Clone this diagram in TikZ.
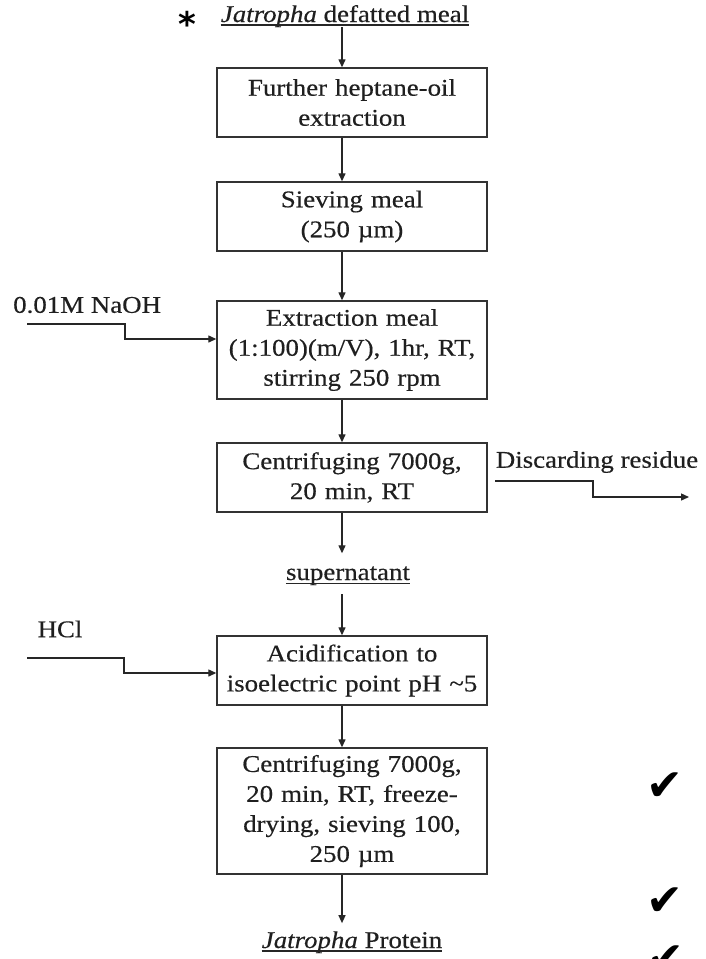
\documentclass[tikz,border=0pt]{standalone}
\usepackage{fontspec}
\setmainfont{Liberation Serif}[FakeStretch=1.12,FakeBold=0.4]
\newfontfamily\symfont{DejaVu Sans}
\usetikzlibrary{arrows.meta}
\begin{document}
\begin{tikzpicture}[x=1pt,y=-1pt,
  every node/.style={font=\fontsize{24}{30}\selectfont, text=black!88},
  stepbox/.style={draw=black!80, line width=1.4pt, minimum width=270pt, align=center, inner sep=0pt, text width=262pt},
  arr/.style={draw=black!85, line width=1.3pt, -{Triangle[length=8pt,width=7pt]}},
  ln/.style={draw=black!85, line width=1.2pt},
  lbl/.style={inner sep=0pt},
  checkmk/.style={inner sep=0pt, font=\symfont\fontsize{44}{44}\selectfont, text=black},
]
\useasboundingbox (0,0) rectangle (706,959);
\fill[white] (0,0) rectangle (706,959);

\coordinate (ax) at (342,0);

% title
\node[lbl, anchor=base] (top) at (345,22) {\textit{Jatropha} defatted meal};
\draw[ln] ([yshift=-3pt]top.base west) -- ([yshift=-3pt]top.base east);
\node[lbl, font=\symfont\bfseries\fontsize{34}{34}\selectfont, text=black] (ast) at (187,24) {*};

% boxes
\node[stepbox, minimum height=69pt] (b1) at (352,102.5) {Further heptane-oil\\extraction};
\node[stepbox, minimum height=69pt] (b2) at (352,216.5) {Sieving meal\\(250 µm)};
\node[stepbox, minimum height=98pt] (b3) at (352,350) {Extraction meal\\(1:100)(m/V), 1hr, RT,\\stirring 250 rpm};
\node[stepbox, minimum height=69pt] (b4) at (352,477.5) {Centrifuging 7000g,\\20 min, RT};
\node[lbl, anchor=base] (sup) at (348,580) {supernatant};
\draw[ln] ([yshift=-3.5pt]sup.base west) -- ([yshift=-3.5pt]sup.base east);
\node[stepbox, minimum height=69pt] (b5) at (352,670.5) {Acidification to\\isoelectric point pH \textasciitilde5};
\node[stepbox, minimum height=126pt] (b6) at (352,811) {Centrifuging 7000g,\\20 min, RT, freeze-\\drying, sieving 100,\\250 µm};
\node[lbl, anchor=base] (prot) at (352,948) {\textit{Jatropha} Protein};
\draw[ln] ([yshift=-3pt]prot.base west) -- ([yshift=-3pt]prot.base east);

% main flow
\draw[arr] (top.south -| ax) -- (b1.north -| ax);
\draw[arr] (b1.south -| ax) -- (b2.north -| ax);
\draw[arr] (b2.south -| ax) -- (b3.north -| ax);
\draw[arr] (b3.south -| ax) -- (b4.north -| ax);
\draw[arr] (b4.south -| ax) -- ([yshift=13pt]sup.north -| ax);
\draw[arr] ([yshift=-9pt]sup.south -| ax) -- (b5.north -| ax);
\draw[arr] (b5.south -| ax) -- (b6.north -| ax);
\draw[arr] (b6.south -| ax) -- ([yshift=8pt]prot.north -| ax);

% NaOH input
\node[lbl, anchor=west] (naoh) at (13,305) {0.01M NaOH};
\coordinate (n0) at (27,324);
\coordinate (n1) at (125,339);
\draw[arr] (n0) -| (n1) -- (n1 -| b3.west);

% HCl input
\node[lbl] (hcl) at (60,629) {HCl};
\coordinate (h0) at (27,658);
\coordinate (h1) at (124,673);
\draw[arr] (h0) -| (h1) -- (h1 -| b5.west);

% discarding residue
\node[lbl] (disc) at (597,462) {Discarding residue};
\coordinate (d0) at (495,481);
\coordinate (d1) at (593,497);
\coordinate (d2) at (689,497);
\draw[arr] (d0) -| (d1) -- (d2);

% check marks
\node[checkmk] (c1) at (665,787) {✔};
\node[checkmk] (c2) at (665,902) {✔};
\node[checkmk] (c3) at (666,960) {✔};
\end{tikzpicture}
\end{document}
